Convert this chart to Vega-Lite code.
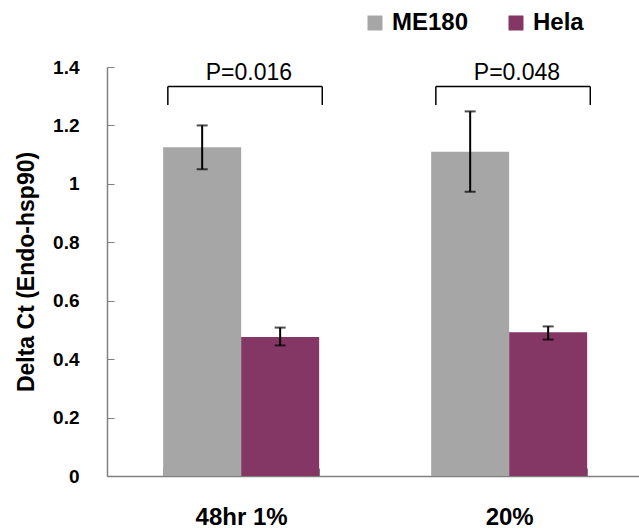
{
  "$schema": "https://vega.github.io/schema/vega-lite/v6.json",
  "width": 532,
  "height": 409,
  "autosize": {"type": "none"},
  "padding": {"left": 107, "top": 67, "right": 0, "bottom": 52},
  "config": {
    "font": "Liberation Sans",
    "view": {"stroke": null},
    "axis": {"grid": false}
  },
  "datasets": {
    "bars": [
      {"group": "48hr 1%", "series": "ME180", "value": 1.125, "low": 1.05, "high": 1.2},
      {"group": "48hr 1%", "series": "Hela", "value": 0.476, "low": 0.447, "high": 0.508},
      {"group": "20%", "series": "ME180", "value": 1.11, "low": 0.973, "high": 1.248},
      {"group": "20%", "series": "Hela", "value": 0.492, "low": 0.467, "high": 0.512}
    ],
    "brackets": [
      {"group": "48hr 1%", "label": "P=0.016"},
      {"group": "20%", "label": "P=0.048"}
    ]
  },
  "encoding": {
    "x": {
      "field": "group", "type": "nominal", "sort": ["48hr 1%", "20%"],
      "scale": {"paddingInner": 0.418, "paddingOuter": 0.2015, "align": 0.52},
      "axis": {
        "title": null, "tickBand": "extent", "tickSize": -8, "tickColor": "#808080",
        "domainColor": "#808080", "domainWidth": 1.5, "labelAngle": 0,
        "labelFont": "Liberation Sans", "labelFontWeight": "bold", "labelFontSize": 24,
        "labelColor": "#000000", "labelPadding": 37, "labelBaseline": "top"
      }
    }
  },
  "layer": [
    {
      "data": {"name": "bars"},
      "mark": {"type": "bar"},
      "encoding": {
        "xOffset": {"field": "series", "type": "nominal", "sort": ["ME180", "Hela"]},
        "y": {
          "field": "value", "type": "quantitative",
          "scale": {"domain": [0, 1.4], "nice": false},
          "axis": {
            "title": "Delta Ct (Endo-hsp90)", "values": [0, 0.2, 0.4, 0.6, 0.8, 1, 1.2, 1.4],
            "format": "~g", "tickSize": -7, "tickColor": "#808080", "domainColor": "#808080",
            "domainWidth": 1.5, "labelFontWeight": "bold", "labelFontSize": 19, "labelColor": "#000000",
            "labelPadding": 35, "titleFontSize": 23, "titleFontWeight": "bold", "titleColor": "#000000",
            "titlePadding": 14
          }
        },
        "color": {
          "field": "series", "type": "nominal", "sort": ["ME180", "Hela"],
          "scale": {"domain": ["ME180", "Hela"], "range": ["#a6a6a6", "#843764"]},
          "legend": {
            "title": null, "orient": "none", "direction": "horizontal",
            "legendX": 256, "legendY": -56, "padding": 0,
            "symbolType": "square", "symbolSize": 225, "symbolStrokeWidth": 0,
            "labelFontSize": 24, "labelFontWeight": "bold", "labelColor": "#000000",
            "labelOffset": 5, "columnPadding": 35
          }
        }
      }
    },
    {
      "data": {"name": "bars"},
      "mark": {"type": "rule", "color": "#000000", "strokeWidth": 2},
      "encoding": {
        "xOffset": {"field": "series", "type": "nominal", "sort": ["ME180", "Hela"]},
        "y": {"field": "low", "type": "quantitative"},
        "y2": {"field": "high"}
      }
    },
    {
      "data": {"name": "bars"},
      "mark": {"type": "tick", "color": "#000000", "thickness": 2, "size": 11, "orient": "horizontal"},
      "encoding": {
        "xOffset": {"field": "series", "type": "nominal", "sort": ["ME180", "Hela"]},
        "y": {"field": "high", "type": "quantitative"}
      }
    },
    {
      "data": {"name": "bars"},
      "mark": {"type": "tick", "color": "#000000", "thickness": 2, "size": 11, "orient": "horizontal"},
      "encoding": {
        "xOffset": {"field": "series", "type": "nominal", "sort": ["ME180", "Hela"]},
        "y": {"field": "low", "type": "quantitative"}
      }
    },
    {
      "data": {"name": "brackets"},
      "mark": {"type": "rule", "color": "#000000", "strokeWidth": 1.5},
      "encoding": {
        "x": {"field": "group", "type": "nominal", "sort": ["48hr 1%", "20%"], "bandPosition": 0.03},
        "x2": {"field": "group", "bandPosition": 1.02},
        "y": {"datum": 1.333, "type": "quantitative"}
      }
    },
    {
      "data": {"name": "brackets"},
      "mark": {"type": "rule", "color": "#000000", "strokeWidth": 1.5},
      "encoding": {
        "x": {"field": "group", "type": "nominal", "sort": ["48hr 1%", "20%"], "bandPosition": 0.03},
        "y": {"datum": 1.27, "type": "quantitative"},
        "y2": {"datum": 1.333}
      }
    },
    {
      "data": {"name": "brackets"},
      "mark": {"type": "rule", "color": "#000000", "strokeWidth": 1.5},
      "encoding": {
        "x": {"field": "group", "type": "nominal", "sort": ["48hr 1%", "20%"], "bandPosition": 1.02},
        "y": {"datum": 1.27, "type": "quantitative"},
        "y2": {"datum": 1.333}
      }
    },
    {
      "data": {"name": "brackets"},
      "mark": {"type": "text", "fontSize": 23, "color": "#000000", "baseline": "middle", "align": "center"},
      "encoding": {
        "x": {"field": "group", "type": "nominal", "sort": ["48hr 1%", "20%"], "bandPosition": 0.55},
        "y": {"datum": 1.38, "type": "quantitative"},
        "text": {"field": "label"}
      }
    }
  ]
}
